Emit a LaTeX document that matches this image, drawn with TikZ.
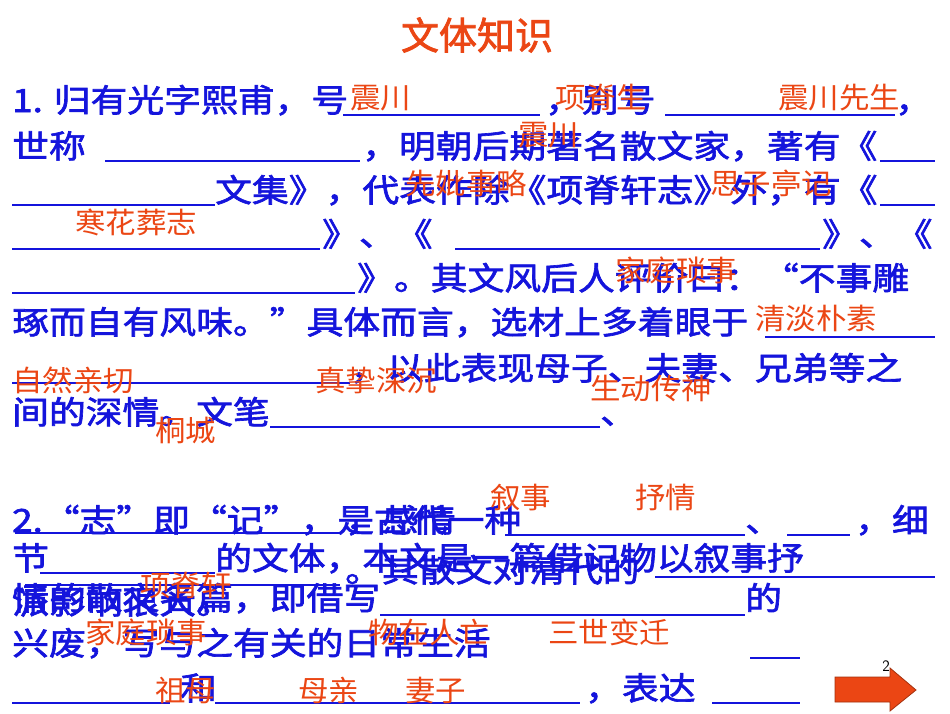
\documentclass[tikz,border=0pt]{standalone}
\usepackage{fontspec}
\newfontfamily\cjk[AutoFakeBold=2]{Noto Sans CJK SC}
\newfontfamily\cjkwide[AutoFakeBold=2,FakeStretch=1.15]{Noto Sans CJK SC}
\newfontfamily\cjkans[FakeStretch=1.05]{Noto Sans CJK SC}
\definecolor{qblue}{RGB}{20,20,220}
\definecolor{qred}{RGB}{235,70,20}
\begin{document}
\begin{tikzpicture}[x=1pt,y=-1pt,
    body/.style={anchor=base west, inner sep=0pt, text=qblue, font=\cjkwide\bfseries\fontsize{32}{34}\selectfont},
    answer/.style={anchor=base west, inner sep=0pt, text=qred, font=\cjkans\fontsize{29}{30}\selectfont},
    uline/.style={draw=qblue, line width=1.3pt}
]
\useasboundingbox[fill=white] (0,0) rectangle (950,713);
\node[text=qred, font=\cjk\bfseries\fontsize{38}{40}\selectfont] (title) at (477,35) {文体知识};
% part 1
\node[body] (l1a) at (12,112) {1. 归有光字熙甫，号};
\node[body] (l1b) at (545,112) {，别号};
\node[body] (l1c) at (895,112) {，};
\node[body] (l2a) at (12,158) {世称};
\node[body] (l2b) at (362,158) {，明朝后期著名散文家，著有《};
\node[body] (l3a) at (215,202) {文集》，代表作除《项脊轩志》外，有《};
\node[body] (l4a) at (322,246) {》、《};
\node[body] (l4b) at (822,246) {》、《};
\node[body] (l5a) at (357,290) {》。其文风后人评价曰：“不事雕};
\node[body] (l6a) at (12,334) {琢而自有风味。”具体而言，选材上多着眼于};
\node[body] (l7a) at (350,380) {，以此表现母子、夫妻、兄弟等之};
\node[body] (l8a) at (12,424) {间的深情。文笔};
\node[body] (l8b) at (600,424) {、};
\foreach \xa/\xb/\yy in {343/540/115, 665/895/115, 105/360/161, 880/935/161, 12/215/205,
    880/935/205, 12/320/249, 455/820/249, 12/355/293, 765/935/337, 12/350/383, 270/600/427}
  \draw[uline] (\xa,\yy) -- (\xb,\yy);
% part 2
\node[body] (l9a) at (12,532) {2.“志”即“记”，是古代一种};
\node[body] (l9b) at (345,532) {，感情};
\node[body] (l9c) at (745,532) {、};
\node[body] (l9d) at (855,532) {，细};
\node[body] (l10a) at (12,570) {节};
\node[body] (l10b) at (215,570) {的文体，本文是一篇借记物以叙事抒};
\node[body] (l10c) at (345,582) {。其散文对清代的};
\node[body] (l11a) at (12,610) {情的散文名篇，即借写};
\node[body] (l11b) at (12,614) {派影响很大。};
\node[body] (l11c) at (745,610) {的};
\node[body] (l12a) at (12,655) {兴废，写与之有关的日常生活};
\node[body] (l13a) at (180,700) {和};
\node[body] (l13b) at (585,700) {，表达};
\foreach \xa/\xb/\yy in {505/745/535, 787/850/535, 15/340/533, 40/215/573, 25/340/585,
    655/935/577, 380/745/615, 750/800/658, 12/170/703, 215/580/703, 712/800/703}
  \draw[uline] (\xa,\yy) -- (\xb,\yy);
% answers
\foreach \xx/\yy/\ans in {350/108/震川, 555/108/项脊生, 778/108/震川先生, 518/145/震川,
    405/194/先妣事略, 710/194/思子亭记, 75/233/寒花葬志, 615/281/家庭琐事,
    755/329/清淡朴素, 12/391/自然亲切, 315/391/真挚深沉, 590/399/生动传神, 155/441/桐城,
    490/508/叙事, 635/508/抒情, 140/596/项脊轩, 85/643/家庭琐事, 368/643/物在人亡,
    548/643/三世变迁, 155/701/祖母, 298/701/母亲, 405/701/妻子}
  \node[answer] at (\xx,\yy) {\ans};
\node[font=\sffamily\fontsize{16}{18}\selectfont] (pageno) at (886,666) {2};
% next-page arrow
\draw[fill=qred, draw=qred!70!black, line width=0.8pt]
  (835,677) -- (890,677) -- (890,668) -- (916,690) -- (890,711) -- (890,702) -- (835,702) -- cycle;
\end{tikzpicture}
\end{document}
